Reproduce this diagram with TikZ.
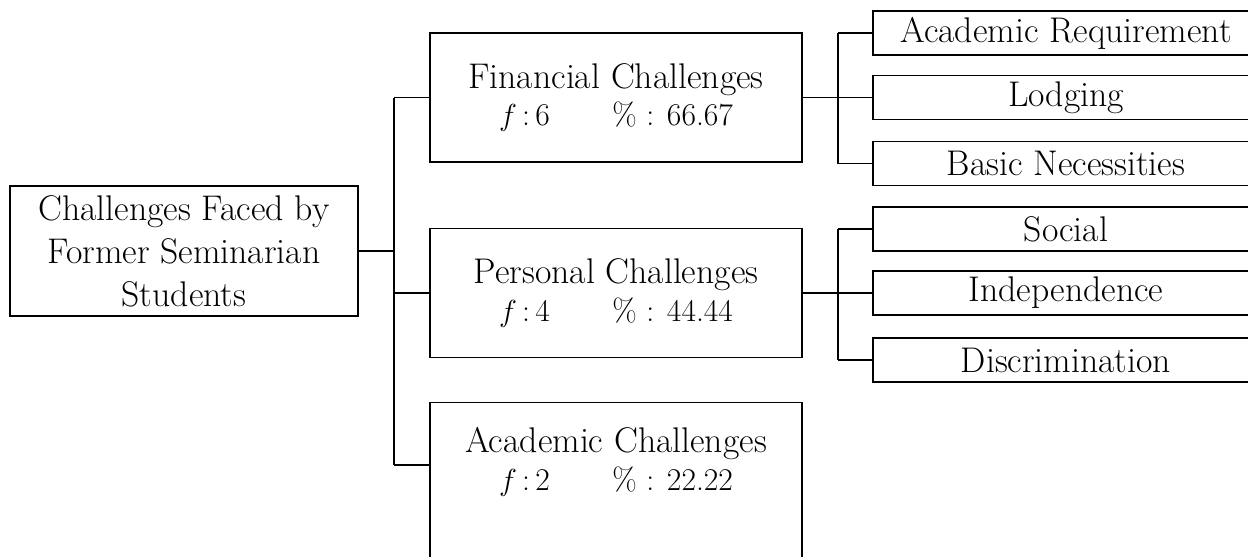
\documentclass[tikz,border=0pt]{standalone}
\usepackage{tikz}
\usetikzlibrary{positioning}

\newcommand{\fstat}[2]{{\fontsize{18}{21.5}\selectfont $f$\,:\,#1\hspace{1.25cm}\% : #2}}

\begin{document}
\begin{tikzpicture}[line width=0.75pt,
  every node/.style={draw, rectangle, align=center, font=\fontsize{20.3}{24.5}\selectfont},
  mid/.style={minimum width=7.44cm, minimum height=2.58cm, font=\fontsize{20.3}{21.5}\selectfont},
  leaf/.style={minimum width=7.72cm, minimum height=0.88cm, inner sep=0pt}]
  \useasboundingbox (0,0) rectangle (24.96,-11.14);
  \clip (0,0) rectangle (24.96,-11.14);

  \node[minimum width=6.96cm, minimum height=2.6cm] (root) at (3.68,-5.02)
    {Challenges Faced by\\Former Seminarian\\Students};

  \node[mid] (fin) at (12.32,-1.95) {Financial Challenges\\\fstat{6}{66.67}};
  \node[mid] (pers) at (12.32,-5.86) {Personal Challenges\\\fstat{4}{44.44}};
  \node[mid, anchor=north, inner ysep=0.5cm, text depth=2.2cm] (acad) at (12.32,-8.04)
    {Academic Challenges\\\fstat{2}{22.22}};

  \node[leaf] (req) at (21.32,-0.66) {Academic Requirement};
  \node[leaf] (lodg) at (21.32,-1.95) {Lodging};
  \node[leaf] (basic) at (21.32,-3.27) {Basic Necessities};
  \node[leaf] (soc) at (21.32,-4.58) {Social};
  \node[leaf] (indep) at (21.32,-5.86) {Independence};
  \node[leaf] (discr) at (21.32,-7.20) {Discrimination};

  % trunk coordinates
  \coordinate (t0) at (7.88,-5.02);
  \coordinate (t1) at (7.88,-1.95);
  \coordinate (t2) at (7.88,-5.86);
  \coordinate (t3) at (7.88,-9.30);
  \coordinate (f1) at (16.76,-0.66);
  \coordinate (f2) at (16.76,-1.95);
  \coordinate (f3) at (16.76,-3.27);
  \coordinate (p1) at (16.76,-4.58);
  \coordinate (p2) at (16.76,-5.86);
  \coordinate (p3) at (16.76,-7.20);

  \draw (root.east) -- (t0);
  \draw (t1) -- (t3);
  \draw (t1) -- (fin.west);
  \draw (t2) -- (pers.west);
  \draw (t3) -- (t3 -| acad.west);

  \draw (fin.east) -- (f2);
  \draw (f1) -- (f3);
  \draw (f1) -- (req.west);
  \draw (f2) -- (lodg.west);
  \draw (f3) -- (basic.west);

  \draw (pers.east) -- (p2);
  \draw (p1) -- (p3);
  \draw (p1) -- (soc.west);
  \draw (p2) -- (indep.west);
  \draw (p3) -- (discr.west);
\end{tikzpicture}
\end{document}
